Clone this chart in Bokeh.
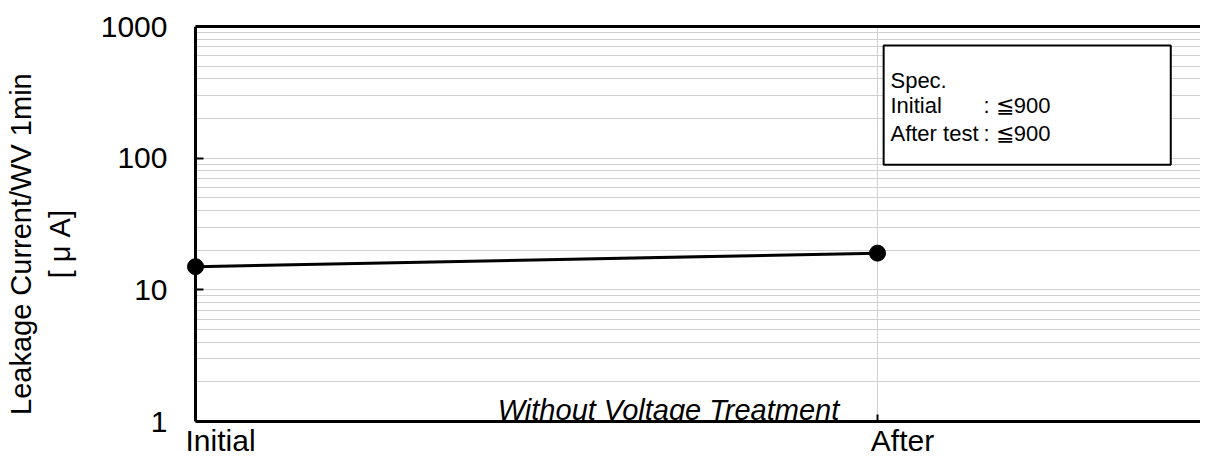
from bokeh.plotting import figure
from bokeh.models import (Range1d, LinearAxis, LogAxis, FixedTicker,
                          BasicTickFormatter, BoxAnnotation, Label)
from bokeh.embed import file_html
from bokeh.resources import INLINE

# ---- data ----
categories = ["Initial", "After"]
leakage_uA = [15, 19]
y_ticks = [1, 10, 100, 1000]
y_title = ["Leakage Current/WV 1min", "[ μ A]"]
note_text = "Without Voltage Treatment"
spec_title = "Spec."
spec_rows = [("Initial", ": ≦900"), ("After test", ": ≦900")]

FONT = "Liberation Sans"
NBSP = "\u00a0"
x_pos = list(range(len(categories)))
minor = [m * 10 ** k for k in range(3) for m in range(2, 10)]
X_START, X_END = -0.0147, 1.4736

p = figure(width=1200, height=459, y_axis_type="log",
           x_range=Range1d(X_START, X_END), y_range=Range1d(1, 1000),
           output_backend="svg", toolbar_location=None,
           min_border_left=185, min_border_right=0,
           min_border_top=26, min_border_bottom=36)
p.outline_line_color = None
p.background_fill_color = "white"
p.border_fill_color = "white"

# y axis labels + title (panel next to the frame, no line/ticks)
ya = p.yaxis[0]
ya.ticker = FixedTicker(ticks=y_ticks, minor_ticks=minor)
ya.formatter = BasicTickFormatter(use_scientific=False)
ya.axis_line_color = None
ya.major_tick_line_color = None
ya.minor_tick_line_color = None
ya.major_tick_in = 0
ya.major_tick_out = 0
ya.minor_tick_in = 0
ya.minor_tick_out = 0
ya.major_label_standoff = 18
ya.major_label_text_font = FONT
ya.major_label_text_font_size = "30px"
ya.major_label_text_color = "black"
ya.axis_label = "\n".join(t + NBSP * 5 for t in y_title)
ya.axis_label_text_font = FONT
ya.axis_label_text_font_size = "29px"
ya.axis_label_text_font_style = "normal"
ya.axis_label_text_color = "black"
ya.axis_label_text_line_height = 1.2
ya.axis_label_standoff = 22

# y axis line + ticks drawn at the "Initial" position
yline = LogAxis(fixed_location=0,
                ticker=FixedTicker(ticks=y_ticks, minor_ticks=minor),
                axis_line_width=3, axis_line_color="black",
                major_tick_in=8, major_tick_out=0, major_tick_line_width=2,
                minor_tick_in=0, minor_tick_out=0,
                major_label_standoff=0,
                major_label_overrides={t: "" for t in y_ticks})
p.add_layout(yline, "left")

# x axis
xa = p.xaxis[0]
xa.bounds = (0, X_END)
xa.ticker = FixedTicker(ticks=x_pos)
xa.major_label_overrides = {i: NBSP * 6 + c for i, c in enumerate(categories)}
xa.axis_line_width = 3
xa.axis_line_color = "black"
xa.major_tick_in = 7
xa.major_tick_out = 0
xa.major_tick_line_width = 2
xa.minor_tick_in = 0
xa.minor_tick_out = 0
xa.major_label_standoff = 2
xa.major_label_text_font = FONT
xa.major_label_text_font_size = "30px"
xa.major_label_text_color = "black"

# top border line
top = LinearAxis(ticker=FixedTicker(ticks=[]), axis_line_width=3,
                 bounds=(0, X_END),
                 axis_line_color="black", major_tick_in=0, major_tick_out=0,
                 minor_tick_in=0, minor_tick_out=0,
                 major_label_text_font_size="0px")
p.add_layout(top, "above")

# grids
p.ygrid.grid_line_color = "#d0d0d0"
p.ygrid.grid_line_width = 1
p.ygrid.minor_grid_line_color = "#d0d0d0"
p.ygrid.minor_grid_line_width = 1
p.ygrid.cross_bounds = (0, X_END)
p.xgrid.ticker = FixedTicker(ticks=[1])
p.xgrid.grid_line_color = "#d0d0d0"
p.xgrid.grid_line_width = 1

# data
p.line(x_pos, leakage_uA, line_color="black", line_width=3)
p.scatter(x_pos, leakage_uA, size=16, marker="circle",
          fill_color="black", line_color="black")

# note
p.add_layout(Label(x=0.6935, y=1, y_offset=12, text=note_text,
                   text_align="center", text_baseline="alphabetic",
                   text_font=FONT, text_font_size="29px",
                   text_font_style="italic", text_color="black"))

# spec box
p.add_layout(BoxAnnotation(left=1.009, right=1.430, bottom=89.1, top=718,
                           fill_color="white", fill_alpha=1.0,
                           line_color="black", line_alpha=1.0, line_width=2))
spec_y = [391, 253, 155]
p.add_layout(Label(x=1.019, y=spec_y[0], text=spec_title,
                   text_baseline="middle", text_font=FONT,
                   text_font_size="22px", text_color="black"))
for (name, val), yy in zip(spec_rows, spec_y[1:]):
    p.add_layout(Label(x=1.019, y=yy, text=name, text_baseline="middle",
                       text_font=FONT, text_font_size="22px",
                       text_color="black"))
    p.add_layout(Label(x=1.1554, y=yy, text=val, text_baseline="middle",
                       text_font=FONT, text_font_size="22px",
                       text_color="black"))

open("out.html", "w").write(file_html(p, INLINE))
